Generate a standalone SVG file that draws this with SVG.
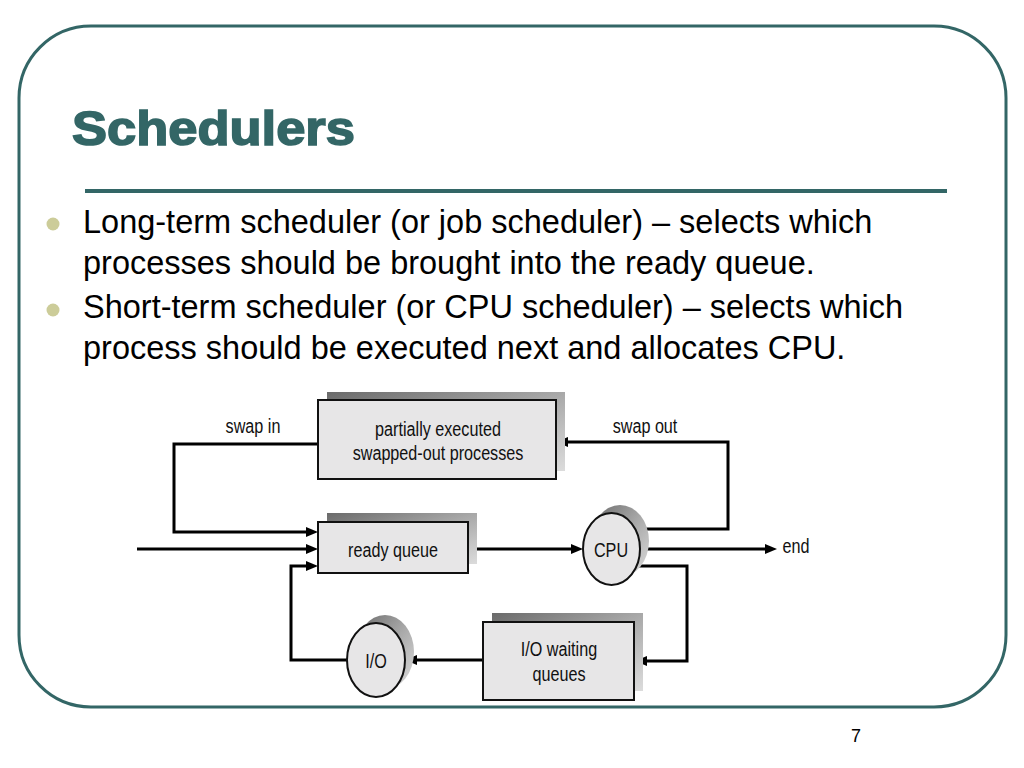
<svg xmlns="http://www.w3.org/2000/svg" width="1024" height="768" viewBox="0 0 1024 768">
<style>
.frame{fill:none;stroke:#336666;stroke-width:3}
.title{font-family:"Liberation Sans",Arial,sans-serif;font-weight:bold;font-size:48px;fill:#336666;stroke:#336666;stroke-width:1.6}
.body{font-family:"Liberation Sans",Arial,sans-serif;font-size:32.5px;fill:#000}
.bullet{fill:#CCCC99}
.box{fill:#e7e6e7;stroke:#111;stroke-width:2}
.lbl{font-family:"Liberation Sans",Arial,sans-serif;font-size:21px;fill:#111;text-anchor:middle}
.conn{fill:none;stroke:#000;stroke-width:3}
.pg{font-family:"Liberation Sans",Arial,sans-serif;font-size:18px;fill:#000;text-anchor:middle}
</style>
<defs>
<linearGradient id="sh" x1="0" y1="0" x2="1" y2="1">
<stop offset="0" stop-color="#6a6a6a"/>
<stop offset="0.5" stop-color="#a8a8a8"/>
<stop offset="1" stop-color="#dcdcdc"/>
</linearGradient>
<marker id="arr" viewBox="0 0 12 10" refX="0" refY="5" markerWidth="12" markerHeight="10" markerUnits="userSpaceOnUse" orient="auto">
<path d="M0,0 L12,5 L0,10 z" fill="#000"/>
</marker>
</defs>
<rect width="1024" height="768" fill="#fff"/>
<rect class="frame" x="19" y="26" width="987" height="681" rx="72" ry="72"/>
<text class="title" x="72" y="145" textLength="283" lengthAdjust="spacingAndGlyphs">Schedulers</text>
<line x1="85" y1="191" x2="947" y2="191" stroke="#336666" stroke-width="4"/>
<circle class="bullet" cx="53" cy="224" r="6.5"/>
<circle class="bullet" cx="53" cy="310" r="6.5"/>
<text class="body" x="83" y="233">Long-term scheduler (or job scheduler) – selects which</text>
<text class="body" x="83" y="274">processes should be brought into the ready queue.</text>
<text class="body" x="83" y="318">Short-term scheduler (or CPU scheduler) – selects which</text>
<text class="body" x="83" y="359">process should be executed next and allocates CPU.</text>

<g id="connectors">
<path class="conn" d="M318,444 H174 V532 H306" marker-end="url(#arr)"/>
<path class="conn" d="M137,549 H306" marker-end="url(#arr)"/>
<path class="conn" d="M347,660 H291 V566 H306" marker-end="url(#arr)"/>
<path class="conn" d="M468,549 H571" marker-end="url(#arr)"/>
<path class="conn" d="M640,549 H765" marker-end="url(#arr)"/>
<path class="conn" d="M635,529 H728 V442 H568" marker-end="url(#arr)"/>
<path class="conn" d="M635,566 H687 V661 H647" marker-end="url(#arr)"/>
<path class="conn" d="M483,660 H417" marker-end="url(#arr)"/>
<text class="lbl" transform="translate(253,433) scale(0.77,1)">swap in</text>
<text class="lbl" transform="translate(645,433) scale(0.77,1)">swap out</text>
<text class="lbl" transform="translate(796,553) scale(0.77,1)">end</text>
</g>

<g id="swapped">
<rect x="327" y="392" width="238" height="79" fill="url(#sh)"/>
<rect class="box" x="318" y="400" width="238" height="79"/>
<text class="lbl" transform="translate(438,436) scale(0.77,1)">partially executed</text>
<text class="lbl" transform="translate(438,460) scale(0.77,1)">swapped-out processes</text>
</g>

<g id="ready">
<rect x="327" y="513" width="150" height="51" fill="url(#sh)"/>
<rect class="box" x="318" y="522" width="150" height="51"/>
<text class="lbl" transform="translate(393,557) scale(0.77,1)">ready queue</text>
</g>

<g id="cpu">
<ellipse cx="620" cy="541" rx="29" ry="36" fill="url(#sh)"/>
<ellipse class="box" cx="611.5" cy="549" rx="28.5" ry="36"/>
<text class="lbl" transform="translate(611,557) scale(0.77,1)">CPU</text>
</g>

<g id="iowait">
<rect x="492" y="613" width="151" height="78" fill="url(#sh)"/>
<rect class="box" x="483" y="622" width="151" height="78"/>
<text class="lbl" transform="translate(559,656) scale(0.77,1)">I/O waiting</text>
<text class="lbl" transform="translate(559,681) scale(0.77,1)">queues</text>
</g>

<g id="io">
<ellipse cx="385" cy="652" rx="29" ry="37" fill="url(#sh)"/>
<ellipse class="box" cx="376" cy="660" rx="29" ry="37"/>
<text class="lbl" transform="translate(376,668) scale(0.77,1)">I/O</text>
</g>

<text class="pg" x="856" y="742">7</text>
</svg>
